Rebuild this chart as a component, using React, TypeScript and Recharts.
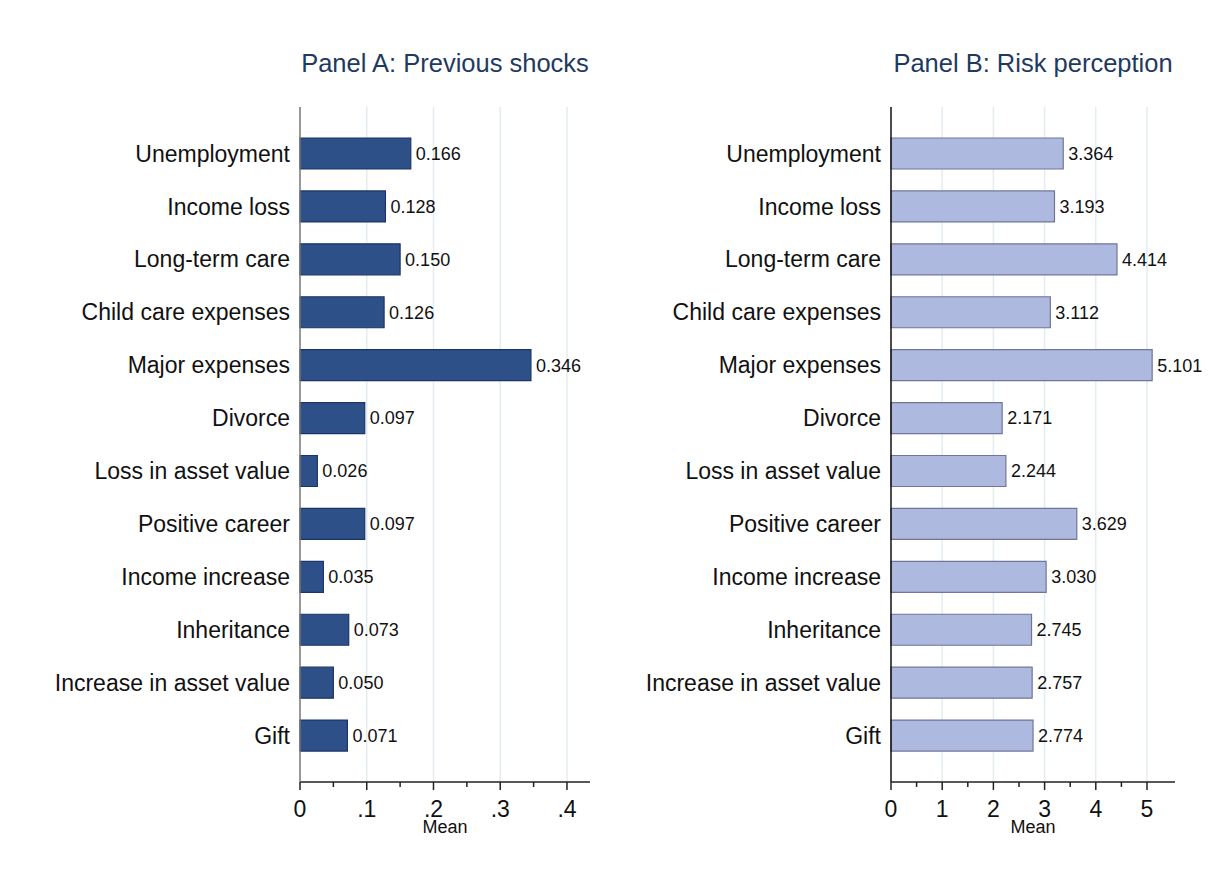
import React from "react";
import {
  BarChart,
  Bar,
  XAxis,
  YAxis,
  LabelList,
  CartesianGrid,
  Label,
} from "recharts";

const categories = [
  "Unemployment",
  "Income loss",
  "Long-term care",
  "Child care expenses",
  "Major expenses",
  "Divorce",
  "Loss in asset value",
  "Positive career",
  "Income increase",
  "Inheritance",
  "Increase in asset value",
  "Gift",
];

const previousShocks = [0.166, 0.128, 0.15, 0.126, 0.346, 0.097, 0.026, 0.097, 0.035, 0.073, 0.05, 0.071];
const riskPerception = [3.364, 3.193, 4.414, 3.112, 5.101, 2.171, 2.244, 3.629, 3.03, 2.745, 2.757, 2.774];

const ticksA = [0, 0.05, 0.1, 0.15, 0.2, 0.25, 0.3, 0.35, 0.4];
const majorA = [0, 0.1, 0.2, 0.3, 0.4];
const ticksB = [0, 0.5, 1, 1.5, 2, 2.5, 3, 3.5, 4, 4.5, 5];
const majorB = [0, 1, 2, 3, 4, 5];

const FONT = "'Liberation Sans', Arial, sans-serif";

type PanelProps = {
  title: string;
  values: number[];
  domainMax: number;
  ticks: number[];
  major: number[];
  fmt: (v: number) => string;
  fill: string;
  stroke: string;
  yAxisColor: string;
  yWidth: number;
  width: number;
  rightMargin: number;
};

const AxisTick = (props: any) => {
  const { x, y, payload, major, fmt } = props;
  const isMajor = major.some((m: number) => Math.abs(m - payload.value) < 1e-9);
  return (
    <g>
      <line x1={x} x2={x} y1={y} y2={y + (isMajor ? 8 : 5)} stroke="#222" strokeWidth={1.5} />
      {isMajor && (
        <text x={x} y={y + 35} textAnchor="middle" fontSize={23} fill="#111" fontFamily={FONT}>
          {fmt(payload.value)}
        </text>
      )}
    </g>
  );
};

const Panel = (props: PanelProps) => {
  const { title, values, domainMax, ticks, major, fmt, fill, stroke, yAxisColor, yWidth, width, rightMargin } = props;
  const data = categories.map((name, i) => ({ name, value: values[i] }));
  const plotLeft = yWidth;
  const plotRight = width - rightMargin;
  const gridValues = major.filter((m) => m > 0);

  // grid only at the labelled ticks, mapped through the axis range
  const gridGen = ({ offset }: any) =>
    gridValues.map((m) => offset.left + (m / domainMax) * offset.width);

  return (
    <div style={{ position: "relative", width, height: 880, flex: "none" }}>
      <div
        style={{
          position: "absolute",
          left: plotLeft,
          width: plotRight - plotLeft,
          top: 49,
          textAlign: "center",
          fontSize: 25.5,
          color: "#1f3a5f",
          fontFamily: FONT,
          whiteSpace: "nowrap",
        }}
      >
        {title}
      </div>
      <BarChart
        width={width}
        height={880}
        data={data}
        layout="vertical"
        margin={{ top: 107, right: rightMargin, bottom: 0, left: 0 }}
        barSize={31}
      >
        <CartesianGrid
          horizontal={false}
          stroke="#e3edf1"
          strokeWidth={1.5}
          verticalCoordinatesGenerator={gridGen}
        />
        <XAxis
          type="number"
          domain={[0, domainMax]}
          ticks={ticks}
          interval={0}
          height={98}
          tickSize={0}
          tickMargin={0}
          tickLine={false}
          axisLine={{ stroke: "#222", strokeWidth: 1.5 }}
          tick={<AxisTick major={major} fmt={fmt} />}
        >
          <Label
            value="Mean"
            position="insideTop"
            offset={38}
            fontSize={18}
            fill="#111"
            fontFamily={FONT}
          />
        </XAxis>
        <YAxis
          type="category"
          dataKey="name"
          width={yWidth}
          tickLine={false}
          tickSize={0}
          tickMargin={10}
          axisLine={{ stroke: yAxisColor, strokeWidth: 1.5 }}
          padding={{ top: 20, bottom: 20 }}
          interval={0}
          tick={{ fontSize: 23, fill: "#111", fontFamily: FONT }}
        />
        <Bar dataKey="value" fill={fill} stroke={stroke} strokeWidth={1.2} isAnimationActive={false}>
          <LabelList
            dataKey="value"
            position="right"
            offset={5}
            formatter={(v: any) => Number(v).toFixed(3)}
            fontSize={18}
            fill="#111"
            fontFamily={FONT}
          />
        </Bar>
      </BarChart>
    </div>
  );
};

const fmtA = (v: number) => (v === 0 ? "0" : String(v).replace(/^0/, ""));
const fmtB = (v: number) => String(v);

export default function App() {
  return (
    <div
      style={{
        position: "absolute",
        left: 0,
        top: 0,
        width: 1214,
        height: 880,
        background: "#fff",
        display: "flex",
      }}
    >
      <Panel
        title="Panel A: Previous shocks"
        values={previousShocks}
        domainMax={0.4345}
        ticks={ticksA}
        major={majorA}
        fmt={fmtA}
        fill="#2e5088"
        stroke="#1d3566"
        yAxisColor="#777"
        yWidth={300}
        width={600}
        rightMargin={10}
      />
      <Panel
        title="Panel B: Risk perception"
        values={riskPerception}
        domainMax={5.547}
        ticks={ticksB}
        major={majorB}
        fmt={fmtB}
        fill="#adb9df"
        stroke="#70769a"
        yAxisColor="#111"
        yWidth={291}
        width={614}
        rightMargin={39}
      />
    </div>
  );
}
